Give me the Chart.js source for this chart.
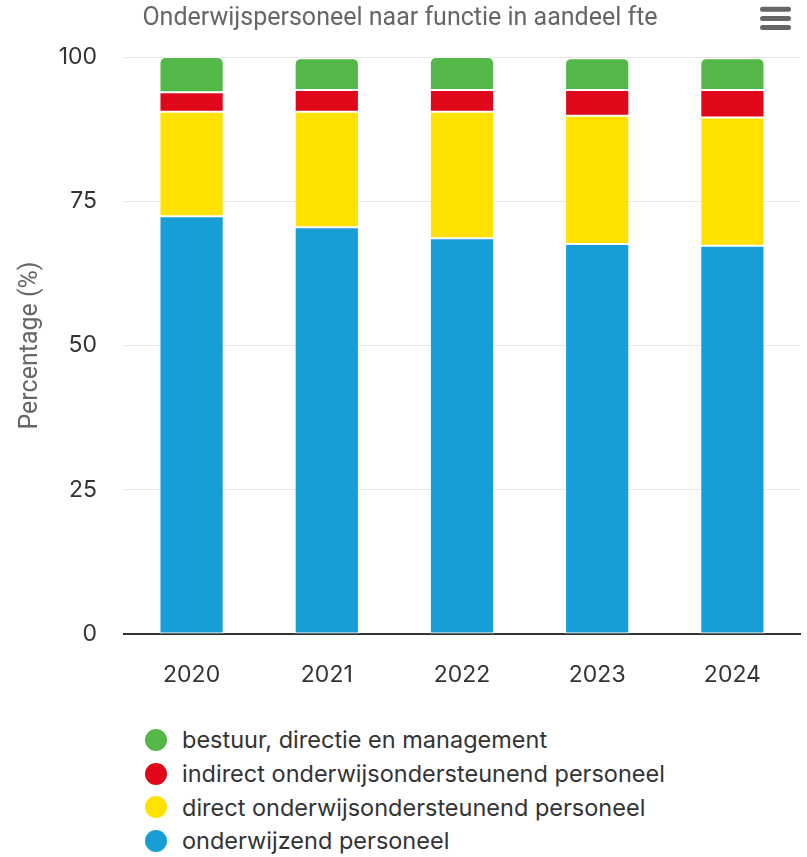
<!DOCTYPE html>
<html>
<head>
<meta charset="utf-8">
<script src="https://cdn.jsdelivr.net/npm/chart.js@4/dist/chart.umd.min.js"></script>
<style>
    body { margin: 0; background: #fff; font-family: Inter, "Noto Sans", sans-serif; }
    #wrap { position: relative; width: 807px; height: 723px; }
    #legend { list-style: none; margin: 0; padding: 0 0 0 145px; }
    #legend li { display: flex; align-items: center; height: 33.7px; font-size: 23.5px; color: #333; }
    #legend span.dot { width: 22px; height: 22px; border-radius: 50%; margin-right: 15px; display: inline-block; }
</style>
</head>
<body>
<div id="wrap"><canvas id="chart"></canvas></div>
<ul id="legend"></ul>
<script>
var years = ['2020', '2021', '2022', '2023', '2024'];
var yTicks = [0, 25, 50, 75, 100];

var onderwijzend = [72.4, 70.5, 68.6, 67.6, 67.3];
var directOOP = [18.1, 20.0, 21.9, 22.2, 22.2];
var indirectOOP = [3.4, 3.8, 3.8, 4.5, 4.8];
var bestuur = [6.1, 5.5, 5.7, 5.5, 5.5];

var names = ['onderwijzend personeel', 'direct onderwijsondersteunend personeel', 'indirect onderwijsondersteunend personeel', 'bestuur, directie en management'];
var colors = ['#189ed6', '#ffe200', '#e0071b', '#53b848'];

var menuIcon = {
    id: 'menuIcon',
    afterDraw: function (chart) {
        var ctx = chart.ctx;
        ctx.save();
        ctx.strokeStyle = '#666';
        ctx.lineWidth = 5;
        ctx.lineCap = 'round';
        [9.2, 18.4, 27.6].forEach(function (y) {
            ctx.beginPath();
            ctx.moveTo(762.5, y);
            ctx.lineTo(788.5, y);
            ctx.stroke();
        });
        ctx.restore();
    }
};

var series = [onderwijzend, directOOP, indirectOOP, bestuur];
var datasets = series.map(function (d, i) {
    return {
        label: names[i],
        data: d,
        backgroundColor: colors[i],
        borderColor: '#fff',
        borderWidth: 1,
        borderSkipped: false,
        borderRadius: i === 3 ? { topLeft: 6, topRight: 6, bottomLeft: 0, bottomRight: 0 } : 0,
        barPercentage: 0.475,
        categoryPercentage: 1
    };
});

var chart = new Chart(document.getElementById('chart'), {
    type: 'bar',
    data: { labels: years, datasets: datasets },
    plugins: [menuIcon],
    options: {
        responsive: true,
        maintainAspectRatio: false,
        animation: false,
        layout: { padding: { left: 0, right: 7, top: 0, bottom: 33 } },
        plugins: {
            legend: { display: false },
            tooltip: { enabled: false },
            title: {
                display: true,
                text: 'Onderwijspersoneel naar functie in aandeel fte',
                color: '#666',
                font: { family: 'Roboto', size: 25, weight: 'normal', lineHeight: 1.2 },
                padding: { top: 4, bottom: 23 }
            }
        },
        scales: {
            x: {
                stacked: true,
                grid: { display: false, drawTicks: false },
                border: { color: '#333', width: 2 },
                ticks: { color: '#333', font: { family: 'Inter', size: 23 }, padding: 27 },
                afterFit: function (axis) { axis.height = 56; }
            },
            y: {
                stacked: true,
                min: 0,
                max: 100,
                afterBuildTicks: function (axis) {
                    axis.ticks = yTicks.map(function (v) { return { value: v }; });
                },
                afterFit: function (axis) { axis.width = 124; },
                grid: { color: '#e6e6e6', lineWidth: 1, drawTicks: false },
                border: { display: false },
                ticks: { color: '#333', font: { family: 'Inter', size: 23 }, padding: 27 },
                title: {
                    display: true,
                    text: 'Percentage (%)',
                    color: '#666',
                    font: { family: 'Roboto', size: 25, lineHeight: 1.2 },
                    padding: { top: 16, bottom: 11 }
                }
            }
        }
    }
});

var legend = document.getElementById('legend');
for (var i = datasets.length - 1; i >= 0; i--) {
    legend.innerHTML += `<li><span class="dot" style="background:${colors[i]}"></span>${names[i]}</li>`;
}
</script>
</body>
</html>
